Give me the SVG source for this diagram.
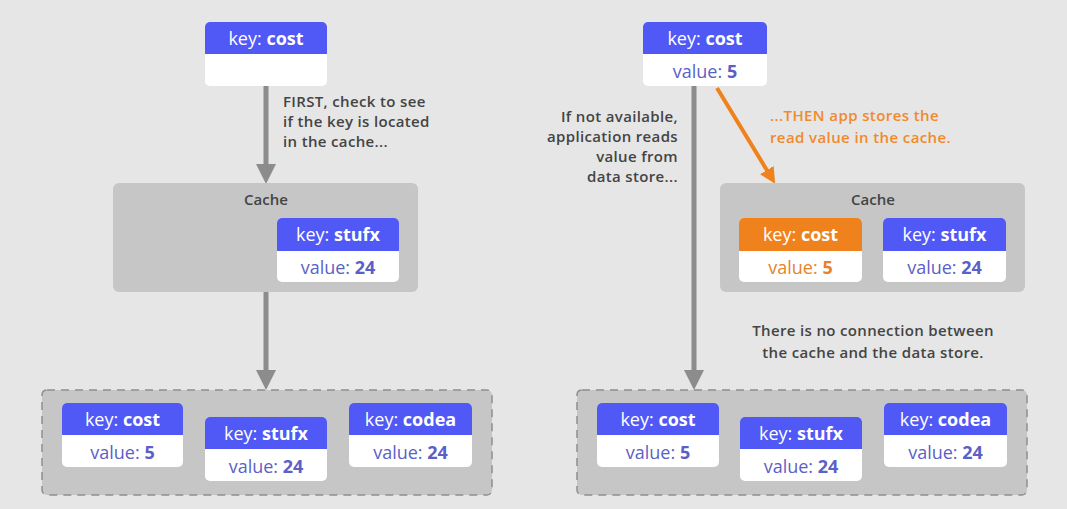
<svg xmlns="http://www.w3.org/2000/svg" width="1067" height="509" viewBox="0 0 1067 509">
<defs>
<style>
text{font-family:"Open Sans","Noto Sans","Liberation Sans",sans-serif}
.key{fill:#fff;font-size:18px;text-anchor:middle}
.val{fill:#5b5fc7;font-size:18px;text-anchor:middle}
.b{font-weight:bold}
.hdr{fill:#5058f6}
.hdro{fill:#f0821e}
.body{fill:#fff}
.cache{fill:#c6c6c6}
.store{fill:#c6c6c6;stroke:#8e8e8e;stroke-width:1.5;stroke-dasharray:8 6}
.lbl{fill:#444;font-size:15px;font-weight:600;letter-spacing:0.35px}
.ttl{fill:#444;font-size:15px;font-weight:600;text-anchor:middle}
.olbl{fill:#f08a2c;font-size:15px;font-weight:600;letter-spacing:0.4px}
.gline{stroke:#8c8c8c;stroke-width:5;fill:none}
.oline{stroke:#f0821e;stroke-width:4;fill:none}
</style>
<marker id="ga" markerWidth="4" markerHeight="4" refX="2" refY="2" orient="auto" markerUnits="strokeWidth" viewBox="0 0 4 4"><path d="M0,0 L4,2 L0,4 z" fill="#8c8c8c"/></marker>
<marker id="oa" markerWidth="4" markerHeight="4" refX="2" refY="2" orient="auto" markerUnits="strokeWidth" viewBox="0 0 4 4"><path d="M0,0 L4,2 L0,4 z" fill="#f0821e"/></marker>
</defs>
<rect width="1067" height="509" fill="#e6e6e6"/>

<g id="connectors">
<line class="gline" x1="266" y1="86" x2="266" y2="174" marker-end="url(#ga)"/>
<line class="gline" x1="266" y1="292" x2="266" y2="380" marker-end="url(#ga)"/>
<line class="gline" x1="694" y1="86" x2="694" y2="380" marker-end="url(#ga)"/>
<line class="oline" x1="717" y1="88" x2="771" y2="177" marker-end="url(#oa)"/>
</g>

<g id="label-first">
<text class="lbl" x="283" y="107">FIRST, check to see</text>
<text class="lbl" x="283" y="127">if the key is located</text>
<text class="lbl" x="283" y="147">in the cache...</text>
</g>
<g id="label-notavail">
<text class="lbl" x="678" y="122" text-anchor="end">If not available,</text>
<text class="lbl" x="678" y="142" text-anchor="end">application reads</text>
<text class="lbl" x="678" y="162" text-anchor="end">value from</text>
<text class="lbl" x="678" y="182" text-anchor="end">data store...</text>
</g>
<g id="label-then">
<text class="olbl" x="770" y="121">...THEN app stores the</text>
<text class="olbl" x="770" y="143">read value in the cache.</text>
</g>
<g id="label-noconn">
<text class="lbl" x="873" y="336" text-anchor="middle">There is no connection between</text>
<text class="lbl" x="873" y="358" text-anchor="middle">the cache and the data store.</text>
</g>

<g id="app-left">
<rect class="body" x="205" y="22" width="122" height="64" rx="5"/>
<path class="hdr" d="M205,54 V27 a5,5 0 0 1 5,-5 H322 a5,5 0 0 1 5,5 V54 z"/>
<text class="key" x="266" y="45">key: <tspan class="b">cost</tspan></text>
</g>

<g id="cache-left">
<rect class="cache" x="113" y="183" width="305" height="109" rx="6"/>
<text class="ttl" x="266" y="205">Cache</text>
<g id="cache-left-stufx">
<rect class="body" x="277" y="218" width="122" height="64" rx="5"/>
<path class="hdr" d="M277,251 V223 a5,5 0 0 1 5,-5 H394 a5,5 0 0 1 5,5 V251 z"/>
<text class="key" x="338" y="241">key: <tspan class="b">stufx</tspan></text>
<text class="val" x="338" y="274">value: <tspan class="b">24</tspan></text>
</g>
</g>

<g id="store-left">
<rect class="store" x="42" y="390" width="450" height="105" rx="5"/>
<g id="store-left-cost">
<rect class="body" x="62" y="403" width="121" height="64" rx="5"/>
<path class="hdr" d="M62,435 V408 a5,5 0 0 1 5,-5 H178 a5,5 0 0 1 5,5 V435 z"/>
<text class="key" x="122.500" y="426">key: <tspan class="b">cost</tspan></text>
<text class="val" x="122.500" y="459">value: <tspan class="b">5</tspan></text>
</g>
<g id="store-left-stufx">
<rect class="body" x="205" y="417" width="122" height="64" rx="5"/>
<path class="hdr" d="M205,449 V422 a5,5 0 0 1 5,-5 H322 a5,5 0 0 1 5,5 V449 z"/>
<text class="key" x="266" y="440">key: <tspan class="b">stufx</tspan></text>
<text class="val" x="266" y="473">value: <tspan class="b">24</tspan></text>
</g>
<g id="store-left-codea">
<rect class="body" x="349" y="403" width="123" height="64" rx="5"/>
<path class="hdr" d="M349,435 V408 a5,5 0 0 1 5,-5 H467 a5,5 0 0 1 5,5 V435 z"/>
<text class="key" x="410.500" y="426">key: <tspan class="b">codea</tspan></text>
<text class="val" x="410.500" y="459">value: <tspan class="b">24</tspan></text>
</g>
</g>

<g id="app-right">
<rect class="body" x="643" y="22" width="124" height="64" rx="5"/>
<path class="hdr" d="M643,54 V27 a5,5 0 0 1 5,-5 H762 a5,5 0 0 1 5,5 V54 z"/>
<text class="key" x="705" y="45">key: <tspan class="b">cost</tspan></text>
<text class="val" x="705" y="78">value: <tspan class="b">5</tspan></text>
</g>

<g id="cache-right">
<rect class="cache" x="720" y="183" width="305" height="109" rx="6"/>
<text class="ttl" x="873" y="205">Cache</text>
<g id="cache-right-cost">
<rect class="body" x="739" y="218" width="123" height="64" rx="5"/>
<path class="hdro" d="M739,251 V223 a5,5 0 0 1 5,-5 H857 a5,5 0 0 1 5,5 V251 z"/>
<text class="key" x="800.500" y="241">key: <tspan class="b">cost</tspan></text>
<text class="val" x="800.500" y="274" style="fill:#e8822a">value: <tspan class="b">5</tspan></text>
</g>
<g id="cache-right-stufx">
<rect class="body" x="883" y="218" width="123" height="64" rx="5"/>
<path class="hdr" d="M883,251 V223 a5,5 0 0 1 5,-5 H1001 a5,5 0 0 1 5,5 V251 z"/>
<text class="key" x="944.500" y="241">key: <tspan class="b">stufx</tspan></text>
<text class="val" x="944.500" y="274">value: <tspan class="b">24</tspan></text>
</g>
</g>

<g id="store-right">
<rect class="store" x="577" y="390" width="450" height="105" rx="5"/>
<g id="store-right-cost">
<rect class="body" x="597" y="403" width="122" height="64" rx="5"/>
<path class="hdr" d="M597,435 V408 a5,5 0 0 1 5,-5 H714 a5,5 0 0 1 5,5 V435 z"/>
<text class="key" x="658" y="426">key: <tspan class="b">cost</tspan></text>
<text class="val" x="658" y="459">value: <tspan class="b">5</tspan></text>
</g>
<g id="store-right-stufx">
<rect class="body" x="740" y="417" width="122" height="64" rx="5"/>
<path class="hdr" d="M740,449 V422 a5,5 0 0 1 5,-5 H857 a5,5 0 0 1 5,5 V449 z"/>
<text class="key" x="801" y="440">key: <tspan class="b">stufx</tspan></text>
<text class="val" x="801" y="473">value: <tspan class="b">24</tspan></text>
</g>
<g id="store-right-codea">
<rect class="body" x="884" y="403" width="123" height="64" rx="5"/>
<path class="hdr" d="M884,435 V408 a5,5 0 0 1 5,-5 H1002 a5,5 0 0 1 5,5 V435 z"/>
<text class="key" x="945.500" y="426">key: <tspan class="b">codea</tspan></text>
<text class="val" x="945.500" y="459">value: <tspan class="b">24</tspan></text>
</g>
</g>
</svg>
